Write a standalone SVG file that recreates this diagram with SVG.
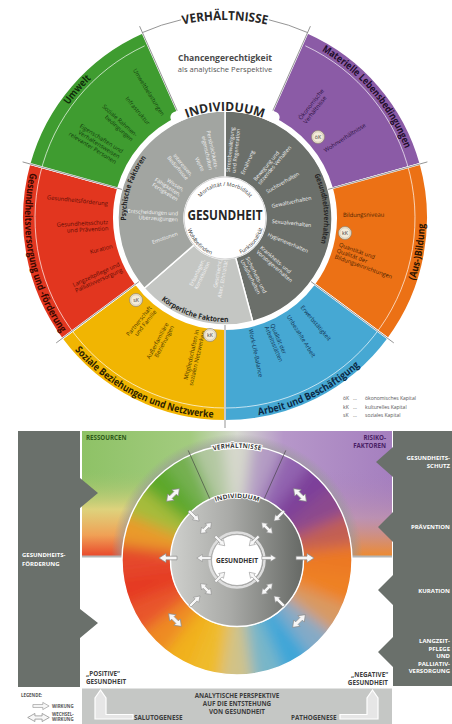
<svg xmlns="http://www.w3.org/2000/svg" width="452" height="724" viewBox="0 0 452 724">
<defs>
<style>
text{font-family:"Open Sans","Noto Sans","DejaVu Sans",sans-serif}
.it{font-size:5.8px}
.wt{font-size:5.3px;fill:#f4f4f4}
.lb{font-size:10px;font-weight:700}
.ml{font-size:7.4px;font-weight:700;fill:#262626}
.sep{stroke:#7a7a7a;stroke-width:0.8;fill:none}
.kc{fill:#f3ebd9;stroke:#8c8270;stroke-width:0.7}
.kt{font-size:5.2px;fill:#3a3a3a;text-anchor:middle}
.arr{fill:#f7f7f7;stroke:#8a8a8a;stroke-width:0.7}
.pt{font-size:6px;font-weight:700;fill:#fff}
.bt{font-size:6.3px;font-weight:700;fill:#3d3d3d}
.lg{font-size:4.4px;font-weight:700;fill:#555}
</style>
<path id="p_verh" d="M157.3,31.9 A198,198 0 0 1 292.7,31.9"/>
<path id="p_mat" d="M309.6,44.5 A193,193 0 0 1 409.6,161.6"/>
<path id="p_umw" d="M43.6,152 A193,193 0 0 1 134.4,47.6"/>
<path id="p_bil" d="M398.2,318 A200,200 0 0 0 422,183.3"/>
<path id="p_arb" d="M232,417.9 A200,200 0 0 0 378.2,346.6"/>
<path id="p_soz" d="M67.4,341.1 A200,200 0 0 0 225,418"/>
<path id="p_ges" d="M30.9,169.6 A200,200 0 0 0 63.2,335.6"/>
<path id="p_ind" d="M163.6,130.3 A107,107 0 0 1 286.4,130.3"/>
<path id="p_psy" d="M128.2,238.6 A99,99 0 0 1 158.8,144.4"/>
<path id="p_gv" d="M306.1,161.2 A99,99 0 0 1 315.4,258.3"/>
<path id="p_kf" d="M151.5,291.5 A104,104 0 0 0 241.3,320.7"/>
<path id="p_mor" d="M194.9,207.1 A32,32 0 0 1 255.1,207.1"/>
<path id="p_woh" d="M186.4,223.4 A39,39 0 0 0 216.9,256.1"/>
<path id="p_fun" d="M235.1,255.7 A39,39 0 0 0 263.7,222.8"/>
<path id="p_lverh" d="M181,463 A112,112 0 0 1 293,463"/>
<path id="p_lind" d="M197.1,512.5 A62,62 0 0 1 276.9,512.5"/>
<path id="a1" d="M-9,-1.8 H2 V-4.5 L9,0 L2,4.5 V1.8 H-9 Z"/>
<path id="a2" d="M-9,0 L-3,-4.5 V-1.8 H3 V-4.5 L9,0 L3,4.5 V1.8 H-3 V4.5 Z"/>
<linearGradient id="bgH" x1="82" y1="0" x2="392" y2="0" gradientUnits="userSpaceOnUse">
<stop offset="0" stop-color="#8ec266"/><stop offset="0.35" stop-color="#a3cb7f"/><stop offset="0.5" stop-color="#d6d9d0"/><stop offset="0.65" stop-color="#b697c9"/><stop offset="1" stop-color="#a57fbf"/>
</linearGradient>
<linearGradient id="bgL" x1="0" y1="470" x2="0" y2="557" gradientUnits="userSpaceOnUse">
<stop offset="0" stop-color="#9ac46e" stop-opacity="0"/><stop offset="0.45" stop-color="#e6d47e" stop-opacity="0.9"/><stop offset="0.75" stop-color="#f0a055"/><stop offset="1" stop-color="#e8452a"/>
</linearGradient>
<linearGradient id="bgR" x1="0" y1="470" x2="0" y2="557" gradientUnits="userSpaceOnUse">
<stop offset="0" stop-color="#a57fbf" stop-opacity="0"/><stop offset="0.55" stop-color="#c89aa8" stop-opacity="0.6"/><stop offset="1" stop-color="#ef8a2c"/>
</linearGradient>
<radialGradient id="halo" cx="237" cy="560" r="126" gradientUnits="userSpaceOnUse">
<stop offset="0.88" stop-color="#9a9a9a" stop-opacity="0.9"/><stop offset="1" stop-color="#9a9a9a" stop-opacity="0"/>
</radialGradient>
<linearGradient id="grayR" x1="170" y1="0" x2="304" y2="0" gradientUnits="userSpaceOnUse">
<stop offset="0" stop-color="#cfd0cd"/><stop offset="0.45" stop-color="#a9aaa7"/><stop offset="1" stop-color="#656864"/>
</linearGradient>
<clipPath id="bgClip"><rect x="82" y="431" width="310" height="126"/></clipPath>
<clipPath id="ringClip"><path clip-rule="evenodd" d="M122,560 A115,115 0 1 1 352,560 A115,115 0 1 1 122,560 Z M170,560 A67,67 0 1 0 304,560 A67,67 0 1 0 170,560 Z"/></clipPath>
<filter id="bl" x="-20%" y="-20%" width="140%" height="140%"><feGaussianBlur stdDeviation="7"/></filter>
</defs>

<!-- ===== TOP WHEEL ===== -->
<g id="outer-ring">
<g id="sector-materielle"><path d="M307.56,32.56 A203,203 0 0 1 420.61,163.76 L331.96,188.34 A111,111 0 0 0 270.14,116.6 Z" fill="#8b5ba6" stroke="#fff" stroke-width="2"/></g>
<g id="sector-bildung"><path d="M420.61,163.76 A203,203 0 0 1 388.19,338.74 L314.23,284.02 A111,111 0 0 0 331.96,188.34 Z" fill="#ec7115" stroke="#fff" stroke-width="2"/></g>
<g id="sector-arbeit"><path d="M388.19,338.74 A203,203 0 0 1 225,421 L225,329 A111,111 0 0 0 314.23,284.02 Z" fill="#46a8d3" stroke="#fff" stroke-width="2"/></g>
<g id="sector-soziale"><path d="M225,421 A203,203 0 0 1 61.81,338.74 L135.77,284.02 A111,111 0 0 0 225,329 Z" fill="#f1b502" stroke="#fff" stroke-width="2"/></g>
<g id="sector-versorgung"><path d="M61.81,338.74 A203,203 0 0 1 29.39,163.76 L118.04,188.34 A111,111 0 0 0 135.77,284.02 Z" fill="#e2361f" stroke="#fff" stroke-width="2"/></g>
<g id="sector-umwelt"><path d="M29.39,163.76 A203,203 0 0 1 142.44,32.56 L179.86,116.6 A111,111 0 0 0 118.04,188.34 Z" fill="#3f9c30" stroke="#fff" stroke-width="2"/></g>
<path d="M305.3,45.8 A190,190 0 1 1 144.7,45.8" fill="none" stroke="#fff" stroke-width="0.8" opacity="0.85"/>
</g>

<g id="middle-ring">
<path d="M225,111 A107,107 0 0 1 252.69,321.35 L235.61,257.6 A41,41 0 0 0 225,177 Z" fill="#6b6f6a" stroke="#fff" stroke-width="1.5"/>
<path d="M252.69,321.35 A107,107 0 0 1 144.25,288.2 L194.06,244.9 A41,41 0 0 0 235.61,257.6 Z" fill="#c4c6c3" stroke="#fff" stroke-width="1.5"/>
<path d="M144.25,288.2 A107,107 0 0 1 225,111 L225,177 A41,41 0 0 0 194.06,244.9 Z" fill="#a2a5a1" stroke="#fff" stroke-width="1.5"/>
</g>
<g id="center-health">
<circle cx="225" cy="218" r="41" fill="#fff" stroke="#d4d4d4" stroke-width="1"/>
<text x="225" y="220" text-anchor="middle" font-size="14" font-weight="700" fill="#262626" textLength="75" lengthAdjust="spacingAndGlyphs">GESUNDHEIT</text>
<text font-size="5.4" fill="#333"><textPath href="#p_mor" startOffset="50%" text-anchor="middle">Mortalität / Morbidität</textPath></text>
<text font-size="5.4" fill="#333"><textPath href="#p_woh" startOffset="50%" text-anchor="middle">Wohlbefinden</textPath></text>
<text font-size="5.4" fill="#333"><textPath href="#p_fun" startOffset="50%" text-anchor="middle">Funktionalität</textPath></text>
</g>

<g id="connectors">
<g class="sep">
<path d="M268.5,120.3 L310.4,26.2"/><path d="M328.1,189.4 L427.4,161.9"/><path d="M311,281.6 L393.8,342.9"/><path d="M225,325 L225,428"/><path d="M139,281.6 L56.2,342.9"/><path d="M121.9,189.4 L22.6,161.9"/><path d="M181.5,120.3 L139.6,26.2"/>
<path d="M142.44,32.56 A203,203 0 0 1 181.1,19.8"/><path d="M268.9,19.8 A203,203 0 0 1 307.56,32.56"/>
</g>
</g>

<g id="label-verhaeltnisse">
<text font-size="12.5" font-weight="700" fill="#262626"><textPath href="#p_verh" startOffset="50%" text-anchor="middle" textLength="85" lengthAdjust="spacingAndGlyphs">VERHÄLTNISSE</textPath></text>
<text x="225" y="61" text-anchor="middle" font-size="8.6" font-weight="700" fill="#4a4a4a">Chancengerechtigkeit</text>
<text x="225" y="72" text-anchor="middle" font-size="7.6" fill="#555">als analytische Perspektive</text>
</g>
<g id="label-individuum">
<path d="M175.9,117.3 A112,112 0 0 1 274.1,117.3" fill="none" stroke="#fff" stroke-width="11" stroke-linecap="round"/>
<text font-size="12.5" font-weight="700" fill="#262626"><textPath href="#p_ind" startOffset="50%" text-anchor="middle" textLength="78" lengthAdjust="spacingAndGlyphs">INDIVIDUUM</textPath></text>
</g>

<g id="outer-labels">
<text class="lb" fill="#0f2d0a"><textPath href="#p_umw" startOffset="50%" text-anchor="middle" textLength="35" lengthAdjust="spacingAndGlyphs">Umwelt</textPath></text>
<text class="lb" fill="#1f0d2c"><textPath href="#p_mat" startOffset="50%" text-anchor="middle" textLength="131" lengthAdjust="spacingAndGlyphs">Materielle Lebensbedingungen</textPath></text>
<text class="lb" fill="#2a1300"><textPath href="#p_bil" startOffset="50%" text-anchor="middle" textLength="58" lengthAdjust="spacingAndGlyphs">(Aus-)Bildung</textPath></text>
<text class="lb" fill="#0b2a47"><textPath href="#p_arb" startOffset="50%" text-anchor="middle" textLength="114" lengthAdjust="spacingAndGlyphs">Arbeit und Beschäftigung</textPath></text>
<text class="lb" fill="#2c2100"><textPath href="#p_soz" startOffset="50%" text-anchor="middle" textLength="158" lengthAdjust="spacingAndGlyphs">Soziale Beziehungen und Netzwerke</textPath></text>
<text class="lb" fill="#3a0800"><textPath href="#p_ges" startOffset="50%" text-anchor="middle" textLength="168" lengthAdjust="spacingAndGlyphs">Gesundheitsversorgung und -förderung</textPath></text>
</g>

<g id="middle-labels">
<text class="ml"><textPath href="#p_psy" startOffset="50%" text-anchor="middle" textLength="67" lengthAdjust="spacingAndGlyphs">Psychische Faktoren</textPath></text>
<text class="ml"><textPath href="#p_gv" startOffset="50%" text-anchor="middle" textLength="70" lengthAdjust="spacingAndGlyphs">Gesundheitsverhalten</textPath></text>
<text class="ml"><textPath href="#p_kf" startOffset="50%" text-anchor="middle" textLength="72" lengthAdjust="spacingAndGlyphs">Körperliche Faktoren</textPath></text>
</g>

<g id="items-umwelt" class="it" fill="#123d0c" text-anchor="end">
<text transform="translate(161.4,116.2) rotate(58)">Umweltbelastungen</text>
<text transform="translate(147.2,125.3) rotate(50)">Infrastruktur</text>
<text transform="translate(135.1,137) rotate(42)"><tspan x="0">Soziale Rahmen-</tspan><tspan x="0" dy="6.3">bedingungen</tspan></text>
<text transform="translate(121.5,153.4) rotate(32)"><tspan x="0">Eigenschaften und</tspan><tspan x="0" dy="6.3">Verhaltensweisen</tspan><tspan x="0" dy="6.3">relevanter Personen</tspan></text>
</g>
<g id="items-versorgung" class="it" fill="#5c0d05" text-anchor="end">
<text transform="translate(107.6,205.7) rotate(6)">Gesundheitsförderung</text>
<text transform="translate(108.2,224.1) rotate(-3)"><tspan x="0">Gesundheitsschutz</tspan><tspan x="0" dy="6.3">und Prävention</tspan></text>
<text transform="translate(113,248) rotate(-15)">Kuration</text>
<text transform="translate(120.3,265.7) rotate(-24.5)"><tspan x="0">Langzeitpflege und</tspan><tspan x="0" dy="6.3">Palliativversorgung</tspan></text>
</g>
<g id="items-soziale" class="it" fill="#4a3500" text-anchor="end">
<text transform="translate(152,308.1) rotate(-51)"><tspan x="0">Partnerschaft</tspan><tspan x="0" dy="6.3">und Familie</tspan></text>
<text transform="translate(168.7,324) rotate(-62)"><tspan x="0">Außerfamiliäre</tspan><tspan x="0" dy="6.3">Beziehungen</tspan></text>
<text transform="translate(199.1,330.1) rotate(-77)"><tspan x="0">Mitgliedschaften in</tspan><tspan x="0" dy="6.3">sozialen Netzwerken</tspan></text>
</g>
<g id="items-arbeit" class="it" fill="#0f2f4f">
<text transform="translate(300.2,307.6) rotate(50)">Erwerbstätigkeit</text>
<text transform="translate(286.5,316.4) rotate(58)">Unbezahlte Arbeit</text>
<text transform="translate(270.3,324.8) rotate(67)"><tspan x="0">Qualität der</tspan><tspan x="0" dy="6.3">Arbeitsstätten</tspan></text>
<text transform="translate(248.7,329.5) rotate(78)">Work-Life-Balance</text>
</g>
<g id="items-bildung" class="it" fill="#4a1f00">
<text transform="translate(343,217) rotate(-0.5)">Bildungsniveau</text>
<text transform="translate(338.5,246.3) rotate(20)"><tspan x="0">Quantität und</tspan><tspan x="0" dy="6.3">Qualität der</tspan><tspan x="0" dy="6.3">Bildungseinrichtungen</tspan></text>
</g>
<g id="items-materielle" class="it" fill="#2a0f40">
<text transform="translate(301.3,120.3) rotate(-52)"><tspan x="0">Ökonomische</tspan><tspan x="0" dy="6.3">Verhältnisse</tspan></text>
<text transform="translate(325.6,152.6) rotate(-33)">Wohnverhältnisse</text>
</g>

<g id="items-psychisch" class="wt" text-anchor="end">
<text transform="translate(214.6,169.1) rotate(78)"><tspan x="0">Persönlichkeits-</tspan><tspan x="0" dy="5.8">eigenschaften</tspan></text>
<text transform="translate(201.4,171.7) rotate(63)">Werte</text>
<text transform="translate(190.3,176.6) rotate(50)"><tspan x="0">Interessen,</tspan><tspan x="0" dy="5.8">Bedürfnisse</tspan></text>
<text transform="translate(182.6,191.5) rotate(32)"><tspan x="0">Wissen,</tspan><tspan x="0" dy="5.8">Fähigkeiten,</tspan><tspan x="0" dy="5.8">Fertigkeiten</tspan></text>
<text transform="translate(178.1,215.5) rotate(3)"><tspan x="0">Entscheidungen und</tspan><tspan x="0" dy="5.8">Überzeugungen</tspan></text>
<text transform="translate(178,235.1) rotate(-20)">Emotionen</text>
</g>
<g id="items-verhalten" class="wt">
<text transform="translate(229.8,172.3) rotate(-84)"><tspan x="0">Stressbewältigung</tspan><tspan x="0" dy="5.8">und Regeneration</tspan></text>
<text transform="translate(244.1,175.1) rotate(-66)">Ernährung</text>
<text transform="translate(255.9,181.2) rotate(-50)"><tspan x="0">Bewegung und</tspan><tspan x="0" dy="5.8">sitzendes Verhalten</tspan></text>
<text transform="translate(267.4,193.5) rotate(-30)">Suchtverhalten</text>
<text transform="translate(272,208) rotate(-12)">Gewaltverhalten</text>
<text transform="translate(271.7,222.9) rotate(6)">Sexualverhalten</text>
<text transform="translate(267.3,236) rotate(23)">Hygieneverhalten</text>
<text transform="translate(259.7,248.2) rotate(41)"><tspan x="0">Krankheits- und</tspan><tspan x="0" dy="5.8">Vorsorgeverhalten</tspan></text>
<text transform="translate(245.4,258.1) rotate(63)"><tspan x="0">Sicherheits- und</tspan><tspan x="0" dy="5.8">Unfallverhalten</tspan></text>
</g>
<g id="items-koerper" class="wt" text-anchor="end">
<text transform="translate(205,260) rotate(-65)"><tspan x="0">Erbanlagen,</tspan><tspan x="0" dy="5.8">Konstitution</tspan></text>
<text transform="translate(222,260) rotate(-80)"><tspan x="0">Geschlecht,</tspan><tspan x="0" dy="5.8">Alter, Ethnizität</tspan></text>
</g>

<g id="capital-badges">
<g><circle cx="318" cy="137" r="6.5" class="kc"/><circle cx="318" cy="137" r="5.2" fill="none" stroke="#b9af98" stroke-width="0.4"/><text x="318" y="139" class="kt">öK</text></g>
<g><circle cx="345" cy="233" r="6.5" class="kc"/><circle cx="345" cy="233" r="5.2" fill="none" stroke="#b9af98" stroke-width="0.4"/><text x="345" y="235" class="kt">kK</text></g>
<g><circle cx="136" cy="300" r="6.5" class="kc"/><circle cx="136" cy="300" r="5.2" fill="none" stroke="#b9af98" stroke-width="0.4"/><text x="136" y="302" class="kt">sK</text></g>
<g><circle cx="210" cy="335" r="6.5" class="kc"/><circle cx="210" cy="335" r="5.2" fill="none" stroke="#b9af98" stroke-width="0.4"/><text x="210" y="337" class="kt">kK</text></g>
</g>
<g id="capital-legend" font-size="5" fill="#555">
<text y="400"><tspan x="343">öK</tspan><tspan x="353">…</tspan><tspan x="365">ökonomisches Kapital</tspan></text>
<text y="408.5"><tspan x="343">kK</tspan><tspan x="353">…</tspan><tspan x="365">kulturelles Kapital</tspan></text>
<text y="417"><tspan x="343">sK</tspan><tspan x="353">…</tspan><tspan x="365">soziales Kapital</tspan></text>
</g>

<!-- ===== LOWER DIAGRAM ===== -->
<g id="background-field">
<rect x="82" y="431" width="310" height="126" fill="url(#bgH)"/>
<rect x="82" y="470" width="130" height="87" fill="url(#bgL)"/>
<rect x="262" y="470" width="130" height="87" fill="url(#bgR)"/>
<circle cx="237" cy="560" r="126" fill="url(#halo)" clip-path="url(#bgClip)"/>
<rect x="82" y="555.5" width="310" height="2" fill="#b4b6b6"/>
<text x="86" y="440" font-size="6.2" font-weight="700" fill="#2f5a1a">RESSOURCEN</text>
<text x="386" y="440" font-size="6.2" font-weight="700" fill="#4a1f66" text-anchor="end">RISIKO-</text>
<text x="386" y="448" font-size="6.2" font-weight="700" fill="#4a1f66" text-anchor="end">FAKTOREN</text>
</g>

<g id="panel-left">
<path d="M18,431 H80 V478 L98,493 L80,508 V609 L98,623 L80,638 V687 H18 Z" fill="#6a706b"/>
<text class="pt" x="22" y="557">GESUNDHEITS-</text>
<text class="pt" x="22" y="566">FÖRDERUNG</text>
</g>
<g id="panel-right">
<path d="M393,431 H452 V686 H393 V667 L378,652 L393,637 V605 L378,590 L393,575 V542 L378,527 L393,512 V477 L376,462 L393,447 Z" fill="#6a706b"/>
<g class="pt" text-anchor="end">
<text x="450" y="460">GESUNDHEITS-</text><text x="450" y="467.5">SCHUTZ</text>
<text x="450" y="529">PRÄVENTION</text>
<text x="450" y="593">KURATION</text>
<text x="450" y="643">LANGZEIT-</text><text x="450" y="650.5">PFLEGE</text><text x="450" y="658">UND</text><text x="450" y="665.5">PALLIATIV-</text><text x="450" y="673">VERSORGUNG</text>
</g>
</g>

<g id="lower-wheel">
<g clip-path="url(#ringClip)">
<g filter="url(#bl)">
<polygon points="237,560 219.4,426.2 254.6,426.2" fill="#d6d8cc"/>
<polygon points="237,560 254.6,426.2 288.7,435.3" fill="#b49cc4"/>
<polygon points="237,560 288.7,435.3 319.2,452.9" fill="#9264b0"/>
<polygon points="237,560 319.2,452.9 344.1,477.8" fill="#7d3f9a"/>
<polygon points="237,560 344.1,477.8 361.7,508.3" fill="#8c4a8e"/>
<polygon points="237,560 361.7,508.3 370.8,542.4" fill="#c25e52"/>
<polygon points="237,560 370.8,542.4 370.8,577.6" fill="#ec7820"/>
<polygon points="237,560 370.8,577.6 361.7,611.7" fill="#ee8024"/>
<polygon points="237,560 361.7,611.7 344.1,642.2" fill="#d89a62"/>
<polygon points="237,560 344.1,642.2 319.2,667.1" fill="#84aac6"/>
<polygon points="237,560 319.2,667.1 288.7,684.7" fill="#3ea6d8"/>
<polygon points="237,560 288.7,684.7 254.6,693.8" fill="#78b6c8"/>
<polygon points="237,560 254.6,693.8 219.4,693.8" fill="#d0c288"/>
<polygon points="237,560 219.4,693.8 185.3,684.7" fill="#efbb2a"/>
<polygon points="237,560 185.3,684.7 154.8,667.1" fill="#f1b11e"/>
<polygon points="237,560 154.8,667.1 129.9,642.2" fill="#ee8a24"/>
<polygon points="237,560 129.9,642.2 112.3,611.7" fill="#e8542a"/>
<polygon points="237,560 112.3,611.7 103.2,577.6" fill="#e53a24"/>
<polygon points="237,560 103.2,577.6 103.2,542.4" fill="#e5462a"/>
<polygon points="237,560 103.2,542.4 112.3,508.3" fill="#ea9a2a"/>
<polygon points="237,560 112.3,508.3 129.9,477.8" fill="#a6bc3a"/>
<polygon points="237,560 129.9,477.8 154.8,452.9" fill="#5ca82c"/>
<polygon points="237,560 154.8,452.9 185.3,435.3" fill="#74b050"/>
<polygon points="237,560 185.3,435.3 219.4,426.2" fill="#b2c8a0"/>
</g>
</g>
<circle cx="237" cy="560" r="115" fill="none" stroke="#fff" stroke-width="1.4"/>
<circle cx="237" cy="560" r="66.5" fill="url(#grayR)" stroke="#fff" stroke-width="1.4"/>
<path d="M209.8,498.8 L188.2,450.4 M264.2,498.8 L285.8,450.4" stroke="#3a3a3a" stroke-width="0.6"/>
<circle cx="237" cy="560" r="27.5" fill="none" stroke="#dedede" stroke-width="2.5"/>
<circle cx="237" cy="560" r="25.5" fill="#fff" stroke="#a6a6a6" stroke-width="0.8"/>
<text font-size="6.6" font-weight="700" fill="#3a3a3a" stroke="#fff" stroke-width="2" paint-order="stroke"><textPath href="#p_lverh" startOffset="50%" text-anchor="middle" textLength="48" lengthAdjust="spacingAndGlyphs">VERHÄLTNISSE</textPath></text>
<text font-size="6.2" font-weight="700" fill="#3a3a3a" stroke="#fff" stroke-width="1.6" paint-order="stroke"><textPath href="#p_lind" startOffset="50%" text-anchor="middle" textLength="44" lengthAdjust="spacingAndGlyphs">INDIVIDUUM</textPath></text>
<text x="237" y="562.5" text-anchor="middle" font-size="6.8" font-weight="700" fill="#333" textLength="42" lengthAdjust="spacingAndGlyphs">GESUNDHEIT</text>
</g>

<g id="arrows" class="arr">
<use href="#a2" transform="translate(173,495) rotate(-45)"/>
<use href="#a2" transform="translate(300,495) rotate(45)"/>
<use href="#a2" transform="translate(175,620) rotate(45)"/>
<use href="#a2" transform="translate(299,621) rotate(-45)"/>
<use href="#a1" transform="translate(168,558) rotate(180)"/>
<use href="#a1" transform="translate(305,558)"/>
<use href="#a1" transform="translate(194,516) rotate(45) scale(0.8)"/>
<use href="#a1" transform="translate(279,516) rotate(135) scale(0.8)"/>
<use href="#a1" transform="translate(195,601) rotate(-45) scale(0.8)"/>
<use href="#a1" transform="translate(279,601) rotate(-135) scale(0.8)"/>
<use href="#a2" transform="translate(206,528) rotate(-45) scale(0.85)"/>
<use href="#a2" transform="translate(267,528) rotate(45) scale(0.85)"/>
<use href="#a2" transform="translate(206,589) rotate(45) scale(0.85)"/>
<use href="#a2" transform="translate(267,589) rotate(-45) scale(0.85)"/>
<use href="#a1" transform="translate(220,541) rotate(45) scale(0.75)"/>
<use href="#a1" transform="translate(254,541) rotate(135) scale(0.75)"/>
<use href="#a1" transform="translate(254,577) rotate(-135) scale(0.75)"/>
<use href="#a1" transform="translate(220,577) rotate(-45) scale(0.75)"/>
<use href="#a1" transform="translate(204,558) rotate(180) scale(0.8)"/>
<use href="#a1" transform="translate(269,558) scale(0.8)"/>
</g>

<g id="bottom-band">
<rect x="82" y="688" width="310" height="36" fill="#c5c7c5"/>
<line x1="82" y1="688" x2="392" y2="688" stroke="#fff" stroke-width="1"/>
<path d="M95,719 V698 L100.5,690 L106,698 V714.5 H133 V719 Z" fill="#e6e6e6" stroke="#fff" stroke-width="1.2"/>
<path d="M378,719 V698 L372.5,690 L367,698 V714.5 H340 V719 Z" fill="#e6e6e6" stroke="#fff" stroke-width="1.2"/>
<text class="bt" x="237" y="698" text-anchor="middle">ANALYTISCHE PERSPEKTIVE</text>
<text class="bt" x="237" y="706" text-anchor="middle">AUF DIE ENTSTEHUNG</text>
<text class="bt" x="237" y="714" text-anchor="middle">VON GESUNDHEIT</text>
<text class="bt" x="134" y="720">SALUTOGENESE</text>
<text class="bt" x="291" y="720">PATHOGENESE</text>
</g>
<g id="health-poles" class="bt">
<text x="86" y="676">„POSITIVE“</text>
<text x="86" y="684">GESUNDHEIT</text>
<text x="388" y="677" text-anchor="end">„NEGATIVE“</text>
<text x="388" y="685" text-anchor="end">GESUNDHEIT</text>
</g>
<g id="legend">
<text class="lg" x="21" y="697">LEGENDE:</text>
<use href="#a1" class="arr" transform="translate(41,706) scale(0.9,0.8)"/>
<text class="lg" x="52" y="708">WIRKUNG</text>
<use href="#a2" class="arr" transform="translate(38.5,717.5) scale(1.2,0.9)"/>
<text class="lg" x="52" y="715.5">WECHSEL-</text>
<text class="lg" x="52" y="721">WIRKUNG</text>
</g>
</svg>
